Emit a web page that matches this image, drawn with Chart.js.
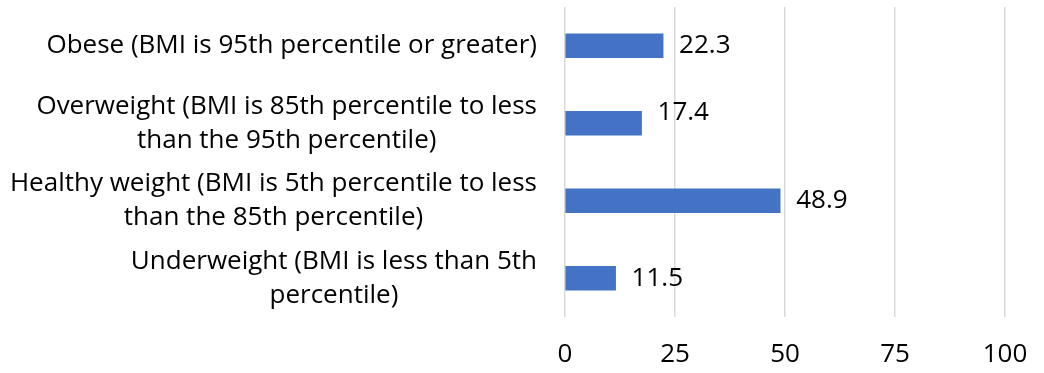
<!DOCTYPE html>
<html>
<head>
<meta charset="utf-8">
<script src="https://cdn.jsdelivr.net/npm/chart.js@4/dist/chart.umd.min.js"></script>
<style>
  html, body { margin: 0; padding: 0; background: #fff; }
  #wrap { width: 1044px; height: 373px; position: relative; }
</style>
</head>
<body>
<div id="wrap"><canvas id="c" width="1044" height="373"></canvas></div>
<script>
const categories = [
  ["Obese (BMI is 95th percentile or greater)"],
  ["Overweight (BMI is 85th percentile to less", "than the 95th percentile)"],
  ["Healthy weight (BMI is 5th percentile to less", "than the 85th percentile)"],
  ["Underweight (BMI is less than 5th", "percentile)"]
];
const values = [22.3, 17.4, 48.9, 11.5];
const xTicks = [0, 25, 50, 75, 100];

const FONT = "'Open Sans', Lato, sans-serif";
const FSIZE = 26;
const LINE_H = 34;

const valueLabels = {
  id: 'valueLabels',
  afterDatasetsDraw(chart, args, opts) {
    const ctx = chart.ctx;
    const meta = chart.getDatasetMeta(0);
    ctx.save();
    ctx.font = FSIZE + "px " + FONT;
    ctx.fillStyle = "#000";
    ctx.textAlign = "left";
    ctx.textBaseline = "middle";
    meta.data.forEach((bar, i) => {
      const dy = (opts.dy && opts.dy[i]) || 0;
      ctx.fillText(String(values[i]), bar.x + 16, bar.y + dy);
    });
    ctx.restore();
  }
};

// Category labels: block right-aligned against the axis, lines centred within the block
const categoryLabels = {
  id: 'categoryLabels',
  afterDraw(chart, args, opts) {
    const ctx = chart.ctx;
    const y = chart.scales.y;
    const right = y.right - opts.gap;
    ctx.save();
    ctx.font = FSIZE + "px " + FONT;
    ctx.fillStyle = "#000";
    ctx.textAlign = "center";
    ctx.textBaseline = "middle";
    y.ticks.forEach((t, i) => {
      const lines = categories[i];
      const w = Math.max(...lines.map(s => ctx.measureText(s).width));
      const cx = right - w / 2;
      const cy = y.getPixelForTick(i);
      const top = cy - (lines.length - 1) * LINE_H / 2;
      lines.forEach((s, k) => ctx.fillText(s, cx, top + k * LINE_H));
    });
    ctx.restore();
  }
};

new Chart(document.getElementById('c'), {
  type: 'bar',
  data: {
    labels: categories,
    datasets: [{
      data: values,
      backgroundColor: '#4472C4',
      borderWidth: 0,
      barThickness: 24
    }]
  },
  options: {
    indexAxis: 'y',
    responsive: false,
    animation: false,
    layout: { padding: { top: 7, right: 39, left: 0, bottom: 0 } },
    plugins: {
      legend: { display: false },
      tooltip: { enabled: false },
      valueLabels: { dy: [0, -11, 0, 0] },
      categoryLabels: { gap: 28 }
    },
    scales: {
      x: {
        min: 0, max: 100,
        afterBuildTicks(scale) { scale.ticks = xTicks.map(v => ({ value: v })); },
        grid: { color: '#d9d9d9', lineWidth: 1.5, drawTicks: false },
        border: { display: false },
        ticks: { color: '#000', font: { family: FONT, size: FSIZE }, padding: 22, maxRotation: 0, autoSkip: false },
        afterFit(scale) { scale.height = 56; scale.paddingLeft = 0; scale.paddingRight = 0; }
      },
      y: {
        grid: { display: false, drawTicks: false },
        border: { display: false },
        ticks: { display: false, autoSkip: false },
        afterFit(scale) { scale.width = 565; scale.paddingTop = 0; scale.paddingBottom = 0; }
      }
    }
  },
  plugins: [valueLabels, categoryLabels]
});
</script>
</body>
</html>
